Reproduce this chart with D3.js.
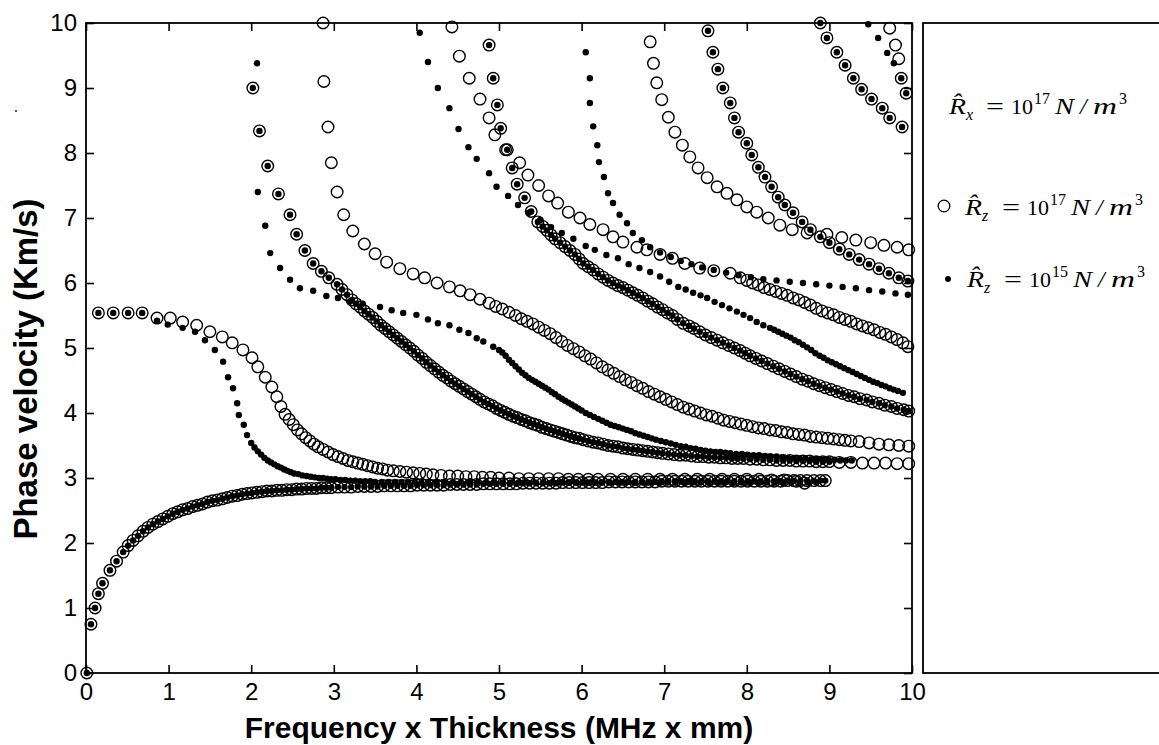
<!DOCTYPE html>
<html><head><meta charset="utf-8">
<script src="https://cdn.jsdelivr.net/npm/d3@7"></script>
<style>body{margin:0;background:#fff}svg{display:block}</style>
</head><body><svg id="c" width="1159" height="745"></svg>
<script>
// ---------------- data ----------------
const xTicks = [0,1,2,3,4,5,6,7,8,9,10];
const yTicks = [0,1,2,3,4,5,6,7,8,9,10];
const xLabel = "Frequency x Thickness (MHz x mm)";
const yLabel = "Phase velocity (Km/s)";

// modes common to both series (drawn as circle + dot)
const modeA0 = [[0.01,0.0],[0.06,0.75],[0.11,1.0],[0.15,1.22],[0.2,1.38],[0.29,1.58],[0.37,1.72],[0.45,1.86],[0.51,1.96],[0.57,2.04],[0.63,2.11],[0.69,2.18],[0.75,2.24],[0.81,2.29],[0.87,2.33],[0.93,2.37],[0.99,2.41],[1.05,2.45],[1.11,2.48],[1.17,2.51],[1.23,2.53],[1.29,2.56],[1.35,2.58],[1.41,2.6],[1.47,2.63],[1.53,2.65],[1.59,2.66],[1.65,2.68],[1.71,2.7],[1.77,2.72],[1.83,2.73],[1.89,2.75],[1.95,2.76],[2.01,2.77],[2.07,2.78],[2.13,2.79],[2.19,2.8],[2.25,2.8],[2.31,2.81],[2.37,2.81],[2.43,2.82],[2.49,2.82],[2.55,2.83],[2.61,2.83],[2.67,2.84],[2.73,2.84],[2.79,2.84],[2.85,2.85],[2.91,2.85],[2.97,2.85],[3.05,2.86],[3.13,2.86],[3.21,2.86],[3.29,2.87],[3.37,2.87],[3.45,2.87],[3.53,2.87],[3.61,2.88],[3.69,2.88],[3.77,2.88],[3.85,2.88],[3.93,2.88],[4.01,2.89],[4.09,2.89],[4.17,2.89],[4.25,2.89],[4.33,2.89],[4.41,2.9],[4.49,2.9],[4.57,2.9],[4.65,2.9],[4.73,2.9],[4.81,2.91],[4.89,2.91],[4.97,2.91],[5.05,2.91],[5.13,2.91],[5.21,2.91],[5.29,2.92],[5.37,2.92],[5.45,2.92],[5.53,2.92],[5.61,2.92],[5.69,2.92],[5.77,2.93],[5.85,2.93],[5.93,2.93],[6.01,2.93],[6.09,2.93],[6.17,2.93],[6.25,2.93],[6.33,2.94],[6.41,2.94],[6.49,2.94],[6.57,2.94],[6.65,2.94],[6.73,2.94],[6.81,2.94],[6.89,2.94],[6.97,2.95],[7.05,2.95],[7.13,2.95],[7.21,2.95],[7.29,2.95],[7.37,2.95],[7.45,2.95],[7.53,2.95],[7.61,2.95],[7.69,2.95],[7.77,2.95],[7.85,2.95],[7.93,2.95],[8.01,2.95],[8.09,2.95],[8.17,2.95],[8.25,2.95],[8.33,2.95],[8.41,2.95],[8.49,2.96],[8.57,2.96],[8.65,2.96],[8.73,2.96],[8.81,2.96],[8.89,2.96],[8.95,2.96]];
const modeS3 = [[2.02,9.0],[2.1,8.34],[2.2,7.8],[2.33,7.37],[2.47,7.05],[2.55,6.75],[2.65,6.5],[2.75,6.3],[2.85,6.18],[2.94,6.08],[3.04,5.98],[3.1,5.9],[3.16,5.82],[3.22,5.74],[3.27,5.68],[3.32,5.63],[3.37,5.57],[3.42,5.52],[3.47,5.47],[3.52,5.41],[3.57,5.35],[3.62,5.3],[3.67,5.25],[3.72,5.2],[3.77,5.15],[3.82,5.1],[3.87,5.05],[3.92,5.0],[3.97,4.95],[4.02,4.89],[4.07,4.84],[4.12,4.78],[4.17,4.73],[4.22,4.68],[4.27,4.63],[4.32,4.58],[4.37,4.54],[4.42,4.49],[4.47,4.45],[4.52,4.41],[4.57,4.37],[4.62,4.33],[4.67,4.29],[4.72,4.25],[4.77,4.21],[4.82,4.17],[4.87,4.14],[4.92,4.11],[4.97,4.07],[5.02,4.04],[5.07,4.01],[5.12,3.98],[5.17,3.95],[5.22,3.93],[5.27,3.9],[5.32,3.88],[5.37,3.85],[5.42,3.83],[5.47,3.81],[5.52,3.78],[5.57,3.76],[5.62,3.74],[5.67,3.72],[5.72,3.7],[5.77,3.68],[5.82,3.66],[5.87,3.64],[5.92,3.62],[5.97,3.61],[6.02,3.59],[6.08,3.57],[6.14,3.55],[6.2,3.54],[6.26,3.52],[6.32,3.5],[6.38,3.49],[6.44,3.48],[6.5,3.46],[6.56,3.45],[6.62,3.44],[6.68,3.43],[6.74,3.42],[6.8,3.41],[6.86,3.4],[6.92,3.39],[6.98,3.38],[7.05,3.37],[7.12,3.36],[7.19,3.35],[7.26,3.35],[7.33,3.34],[7.4,3.33],[7.47,3.33],[7.54,3.32],[7.61,3.32],[7.68,3.31],[7.75,3.31],[7.82,3.3],[7.89,3.3],[7.96,3.3],[8.04,3.29],[8.12,3.29],[8.2,3.28],[8.28,3.28],[8.36,3.27],[8.44,3.27],[8.52,3.27],[8.6,3.26],[8.68,3.26],[8.76,3.26],[8.84,3.25],[8.92,3.25],[9.0,3.25]];
const modeS5 = [[4.88,9.66],[4.93,9.15],[4.98,8.74],[5.02,8.38],[5.1,8.05],[5.16,7.77],[5.22,7.52],[5.31,7.31],[5.39,7.1],[5.47,6.94],[5.53,6.87],[5.58,6.81],[5.63,6.74],[5.68,6.68],[5.74,6.62],[5.8,6.56],[5.86,6.5],[5.92,6.44],[5.97,6.37],[6.02,6.3],[6.08,6.25],[6.14,6.2],[6.2,6.14],[6.26,6.09],[6.32,6.04],[6.38,6.0],[6.44,5.96],[6.5,5.93],[6.56,5.89],[6.62,5.85],[6.68,5.81],[6.74,5.77],[6.8,5.72],[6.86,5.68],[6.92,5.63],[6.98,5.59],[7.04,5.54],[7.1,5.5],[7.16,5.44],[7.23,5.38],[7.3,5.34],[7.36,5.3],[7.43,5.25],[7.5,5.2],[7.57,5.16],[7.64,5.12],[7.71,5.08],[7.78,5.04],[7.85,5.0],[7.92,4.96],[7.98,4.92],[8.04,4.88],[8.11,4.84],[8.18,4.8],[8.25,4.76],[8.32,4.72],[8.39,4.68],[8.46,4.64],[8.53,4.6],[8.6,4.56],[8.67,4.52],[8.74,4.49],[8.81,4.45],[8.88,4.42],[8.95,4.39],[9.02,4.36],[9.09,4.33],[9.16,4.3],[9.23,4.27],[9.3,4.25],[9.37,4.22],[9.45,4.2],[9.52,4.17],[9.6,4.15],[9.67,4.12],[9.75,4.1],[9.82,4.07],[9.9,4.05],[9.96,4.03]];
const modeS8 = [[7.53,9.88],[7.59,9.55],[7.65,9.29],[7.71,9.0],[7.8,8.77],[7.85,8.54],[7.9,8.32],[8.0,8.15],[8.06,7.97],[8.14,7.78],[8.22,7.63],[8.3,7.48],[8.38,7.32],[8.46,7.2],[8.56,7.08],[8.67,6.94],[8.77,6.82],[8.89,6.71],[9.0,6.62],[9.12,6.52],[9.24,6.44],[9.36,6.36],[9.48,6.29],[9.6,6.22],[9.72,6.15],[9.84,6.08],[9.95,6.03]];
const modeS9 = [[8.89,10.0],[8.97,9.77],[9.09,9.55],[9.19,9.35],[9.29,9.15],[9.39,8.98],[9.51,8.83],[9.64,8.69],[9.73,8.54],[9.88,8.4]];

// Rz = 1e17 only (open circles)
const open2 = [[0.15,5.54],[0.33,5.54],[0.51,5.54],[0.68,5.54],[0.86,5.46],[1.02,5.46],[1.17,5.4],[1.34,5.35],[1.5,5.25],[1.65,5.17],[1.77,5.08],[1.9,4.97],[2.01,4.85],[2.08,4.71],[2.17,4.55],[2.25,4.4],[2.31,4.25],[2.36,4.1],[2.41,3.98],[2.46,3.9],[2.51,3.82],[2.56,3.74],[2.61,3.68],[2.66,3.62],[2.71,3.57],[2.76,3.52],[2.81,3.48],[2.87,3.44],[2.93,3.4],[2.99,3.36],[3.05,3.33],[3.11,3.3],[3.17,3.27],[3.23,3.25],[3.29,3.23],[3.35,3.21],[3.41,3.19],[3.47,3.17],[3.53,3.15],[3.59,3.14],[3.65,3.12],[3.72,3.11],[3.8,3.1],[3.88,3.09],[3.96,3.08],[4.04,3.07],[4.12,3.06],[4.2,3.05],[4.3,3.04],[4.4,3.03],[4.5,3.03],[4.6,3.02],[4.7,3.02],[4.8,3.01],[4.9,3.01],[5.0,3.0],[5.12,3.0],[5.24,2.99],[5.36,2.99],[5.48,2.99],[5.6,2.99],[5.72,2.99],[5.84,2.98],[5.96,2.98],[6.08,2.98],[6.2,2.98],[6.35,2.98],[6.5,2.98],[6.65,2.98],[6.8,2.98],[6.95,2.98],[7.1,2.98],[7.25,2.98],[7.4,2.98],[7.55,2.98],[7.7,2.98],[7.85,2.98],[8.0,2.98],[8.15,2.98],[8.3,2.97],[8.45,2.97],[8.6,2.95],[8.7,2.92]];
const open3tail = [[9.12,3.24],[9.26,3.24],[9.4,3.23],[9.54,3.23],[9.68,3.23],[9.82,3.22],[9.96,3.22]];
const open4 = [[2.87,10.0],[2.88,9.1],[2.93,8.4],[2.97,7.85],[3.04,7.4],[3.12,7.05],[3.23,6.8],[3.37,6.6],[3.5,6.45],[3.64,6.32],[3.8,6.22],[3.96,6.14],[4.1,6.08],[4.25,6.0],[4.4,5.94],[4.53,5.88],[4.65,5.82],[4.77,5.75],[4.88,5.69],[4.96,5.64],[5.04,5.6],[5.12,5.55],[5.2,5.5],[5.27,5.45],[5.34,5.41],[5.41,5.37],[5.48,5.32],[5.55,5.27],[5.62,5.22],[5.69,5.16],[5.76,5.1],[5.83,5.04],[5.9,4.99],[5.97,4.94],[6.04,4.88],[6.11,4.83],[6.18,4.77],[6.25,4.71],[6.32,4.66],[6.39,4.61],[6.46,4.56],[6.53,4.51],[6.6,4.47],[6.67,4.42],[6.74,4.38],[6.81,4.33],[6.88,4.29],[6.95,4.25],[7.02,4.21],[7.09,4.17],[7.16,4.13],[7.23,4.09],[7.3,4.06],[7.37,4.03],[7.44,4.0],[7.51,3.97],[7.58,3.95],[7.65,3.92],[7.72,3.89],[7.79,3.87],[7.86,3.85],[7.93,3.83],[8.0,3.81],[8.07,3.79],[8.14,3.77],[8.21,3.76],[8.28,3.74],[8.35,3.73],[8.42,3.71],[8.49,3.7],[8.56,3.68],[8.63,3.67],[8.7,3.66],[8.77,3.64],[8.84,3.63],[8.91,3.62],[8.98,3.61],[9.05,3.6],[9.12,3.59],[9.19,3.58],[9.26,3.57],[9.36,3.56],[9.48,3.54],[9.6,3.52],[9.72,3.51],[9.84,3.5],[9.96,3.49]];
const open5 = [[4.43,9.94],[4.52,9.49],[4.64,9.15],[4.77,8.83],[4.88,8.54],[4.95,8.28],[5.08,8.05],[5.25,7.85],[5.35,7.66],[5.48,7.5],[5.6,7.34],[5.71,7.23],[5.84,7.09],[5.98,7.0],[6.1,6.9],[6.26,6.82],[6.38,6.71],[6.5,6.63],[6.67,6.55],[6.79,6.51],[6.95,6.44],[7.1,6.38],[7.25,6.3],[7.43,6.23],[7.6,6.19],[7.8,6.15],[7.92,6.08],[8.0,6.04],[8.07,6.0],[8.14,5.97],[8.21,5.93],[8.28,5.9],[8.35,5.87],[8.42,5.84],[8.49,5.81],[8.56,5.77],[8.63,5.74],[8.7,5.7],[8.77,5.66],[8.84,5.61],[8.91,5.57],[8.98,5.54],[9.05,5.51],[9.12,5.47],[9.19,5.44],[9.26,5.41],[9.33,5.37],[9.4,5.34],[9.47,5.31],[9.54,5.28],[9.61,5.24],[9.68,5.21],[9.75,5.17],[9.82,5.13],[9.89,5.08],[9.95,5.02]];
const open7 = [[6.83,9.71],[6.87,9.38],[6.91,9.08],[6.97,8.82],[7.05,8.55],[7.13,8.32],[7.22,8.12],[7.31,7.94],[7.41,7.77],[7.52,7.62],[7.64,7.48],[7.76,7.38],[7.88,7.28],[8.0,7.17],[8.12,7.09],[8.26,7.0],[8.4,6.89],[8.55,6.82],[8.73,6.77],[8.97,6.75],[9.15,6.7],[9.32,6.66],[9.5,6.62],[9.66,6.58],[9.82,6.55],[9.96,6.51]];
const open10 = [[9.73,9.92],[9.8,9.66],[9.84,9.45],[9.87,9.15],[9.93,8.92]];

// Rz = 1e15 only (filled dots)
const filled2 = [[0.15,5.54],[0.33,5.54],[0.51,5.54],[0.68,5.54],[0.86,5.42],[0.99,5.36],[1.17,5.31],[1.32,5.25],[1.44,5.12],[1.56,4.97],[1.66,4.79],[1.72,4.55],[1.78,4.38],[1.83,4.15],[1.85,3.97],[1.91,3.82],[1.95,3.66],[2.0,3.54],[2.04,3.47],[2.08,3.41],[2.12,3.36],[2.16,3.31],[2.2,3.27],[2.24,3.24],[2.28,3.21],[2.32,3.18],[2.36,3.16],[2.4,3.13],[2.44,3.11],[2.48,3.09],[2.52,3.07],[2.57,3.06],[2.62,3.04],[2.67,3.03],[2.72,3.02],[2.77,3.01],[2.82,3.0],[2.87,3.0],[2.92,2.99],[2.97,2.98],[3.02,2.98],[3.08,2.97],[3.14,2.97],[3.2,2.96],[3.26,2.96],[3.32,2.95],[3.38,2.95],[3.44,2.95],[3.5,2.94],[3.58,2.94],[3.66,2.94],[3.74,2.94],[3.82,2.94],[3.9,2.94],[3.98,2.94],[4.06,2.93],[4.14,2.93],[4.24,2.93],[4.34,2.93],[4.44,2.93],[4.54,2.93],[4.64,2.93],[4.74,2.93],[4.84,2.93],[4.94,2.93],[5.04,2.93],[5.14,2.93],[5.24,2.93],[5.34,2.93],[5.44,2.93],[5.54,2.93],[5.64,2.93],[5.74,2.93],[5.84,2.93],[5.94,2.93],[6.04,2.93],[6.14,2.93],[6.24,2.93],[6.34,2.93],[6.44,2.93],[6.54,2.93],[6.64,2.93],[6.74,2.93],[6.84,2.93],[6.94,2.93],[7.04,2.93],[7.14,2.93],[7.24,2.93],[7.34,2.93],[7.44,2.93],[7.54,2.93],[7.64,2.93],[7.74,2.93],[7.84,2.93],[7.94,2.93],[8.04,2.93],[8.14,2.93],[8.24,2.93],[8.34,2.93],[8.44,2.93],[8.54,2.93],[8.64,2.93],[8.74,2.93],[8.84,2.93]];
const filled4 = [[2.07,9.38],[2.08,7.4],[2.17,6.88],[2.23,6.46],[2.35,6.23],[2.47,6.05],[2.59,5.92],[2.75,5.88],[2.91,5.8],[3.05,5.77],[3.2,5.72],[3.35,5.68],[3.56,5.63],[3.7,5.58],[3.84,5.54],[4.0,5.51],[4.14,5.44],[4.26,5.38],[4.4,5.35],[4.52,5.28],[4.63,5.23],[4.73,5.15],[4.81,5.1],[4.93,5.02],[5.0,4.97],[5.04,4.93],[5.08,4.88],[5.12,4.82],[5.16,4.77],[5.2,4.72],[5.24,4.67],[5.28,4.62],[5.32,4.58],[5.36,4.54],[5.4,4.51],[5.44,4.48],[5.48,4.45],[5.52,4.42],[5.56,4.39],[5.6,4.36],[5.64,4.32],[5.68,4.29],[5.72,4.25],[5.76,4.22],[5.8,4.19],[5.84,4.16],[5.88,4.13],[5.92,4.1],[5.96,4.07],[6.0,4.04],[6.05,4.0],[6.1,3.97],[6.15,3.94],[6.2,3.91],[6.25,3.88],[6.3,3.85],[6.35,3.82],[6.4,3.8],[6.45,3.78],[6.5,3.76],[6.55,3.74],[6.6,3.72],[6.65,3.69],[6.7,3.67],[6.75,3.65],[6.8,3.63],[6.85,3.61],[6.9,3.59],[6.96,3.57],[7.02,3.55],[7.08,3.53],[7.14,3.51],[7.2,3.49],[7.26,3.48],[7.32,3.46],[7.38,3.45],[7.44,3.43],[7.5,3.42],[7.56,3.41],[7.62,3.4],[7.68,3.4],[7.74,3.39],[7.8,3.38],[7.87,3.37],[7.94,3.37],[8.01,3.36],[8.08,3.35],[8.15,3.35],[8.22,3.34],[8.29,3.33],[8.36,3.33],[8.43,3.32],[8.5,3.31],[8.57,3.31],[8.64,3.3],[8.71,3.3],[8.78,3.29],[8.85,3.29],[8.92,3.28],[8.99,3.28],[9.06,3.28],[9.13,3.27],[9.2,3.27],[9.27,3.27]];
const filled6 = [[4.04,9.85],[4.14,9.4],[4.26,9.0],[4.4,8.69],[4.51,8.37],[4.63,8.09],[4.73,7.91],[4.88,7.69],[4.97,7.48],[5.11,7.34],[5.23,7.2],[5.36,7.08],[5.5,6.97],[5.63,6.86],[5.76,6.77],[5.9,6.68],[6.05,6.57],[6.16,6.51],[6.3,6.43],[6.44,6.38],[6.57,6.29],[6.7,6.23],[6.83,6.17],[6.95,6.1],[7.06,6.02],[7.17,5.94],[7.26,5.9],[7.35,5.85],[7.44,5.81],[7.52,5.77],[7.61,5.71],[7.7,5.66],[7.79,5.61],[7.88,5.56],[7.96,5.51],[8.04,5.46],[8.12,5.4],[8.2,5.35],[8.28,5.31],[8.33,5.28],[8.38,5.25],[8.43,5.22],[8.48,5.19],[8.53,5.16],[8.58,5.12],[8.63,5.09],[8.68,5.05],[8.73,5.01],[8.78,4.97],[8.83,4.92],[8.88,4.88],[8.93,4.85],[8.98,4.81],[9.03,4.78],[9.08,4.75],[9.13,4.72],[9.18,4.69],[9.23,4.66],[9.28,4.63],[9.33,4.6],[9.38,4.57],[9.43,4.54],[9.48,4.51],[9.53,4.48],[9.58,4.46],[9.63,4.43],[9.68,4.41],[9.73,4.38],[9.78,4.36],[9.83,4.34],[9.89,4.31]];
const filled7 = [[6.05,9.55],[6.1,9.15],[6.1,8.77],[6.14,8.41],[6.19,8.12],[6.21,7.86],[6.27,7.63],[6.32,7.38],[6.38,7.23],[6.46,7.05],[6.55,6.92],[6.62,6.77],[6.73,6.66],[6.83,6.55],[6.95,6.47],[7.08,6.4],[7.2,6.34],[7.33,6.29],[7.46,6.24],[7.6,6.2],[7.75,6.16],[7.9,6.12],[8.05,6.09],[8.2,6.06],[8.36,6.04],[8.52,6.02],[8.68,6.0],[8.84,5.98],[9.0,5.96],[9.16,5.94],[9.32,5.92],[9.48,5.89],[9.64,5.87],[9.8,5.84],[9.95,5.82]];
const filled10 = [[9.47,9.98],[9.59,9.77],[9.7,9.54],[9.78,9.38],[9.87,9.15],[9.93,8.92]];

const openModes   = [modeA0, open2, modeS3, open3tail, open4, open5, modeS5, open7, modeS8, modeS9, open10];
const filledModes = [modeA0, filled2, modeS3, filled4, filled6, modeS5, filled7, modeS8, modeS9, filled10];

// ---------------- drawing ----------------
const svg = d3.select('#c');
const x = d3.scaleLinear().domain([0,10]).range([86,912]);
const y = d3.scaleLinear().domain([0,10]).range([673,23]);

function styleAxis(g){
  g.select('.domain').remove();
  g.selectAll('.tick line').attr('stroke','#000').attr('stroke-width',1.6);
  g.selectAll('.tick text').attr('fill','#000');
  g.attr('font-family','"Liberation Sans", Arial, sans-serif').attr('font-size',24);
}
svg.append('g').attr('transform','translate(0,673)')
  .call(d3.axisBottom(x).tickValues(xTicks).tickFormat(d3.format('d')).tickSizeInner(-8).tickSizeOuter(0).tickPadding(10)).call(styleAxis);
svg.append('g').attr('transform','translate(86,0)')
  .call(d3.axisLeft(y).tickValues(yTicks).tickFormat(d3.format('d')).tickSizeInner(-8).tickSizeOuter(0).tickPadding(9)).call(styleAxis);
svg.append('g').attr('transform','translate(0,23)')
  .call(d3.axisTop(x).tickValues(xTicks).tickFormat('').tickSizeInner(-8).tickSizeOuter(0)).call(styleAxis);
svg.append('g').attr('transform','translate(912,0)')
  .call(d3.axisRight(y).tickValues(yTicks).tickFormat('').tickSizeInner(-8).tickSizeOuter(0)).call(styleAxis);

svg.append('rect').attr('x',x(0)).attr('y',y(10)).attr('width',x(10)-x(0)).attr('height',y(0)-y(10))
  .attr('fill','none').attr('stroke','#000').attr('stroke-width',1.8);

// markers
const gOpen = svg.append('g');
openModes.forEach(m => {
  gOpen.selectAll(null).data(m).enter().append('circle')
    .attr('cx',d=>x(d[0])).attr('cy',d=>y(d[1])).attr('r',5.8)
    .attr('fill','none').attr('stroke','#000').attr('stroke-width',1.4);
});
const gFill = svg.append('g');
filledModes.forEach(m => {
  gFill.selectAll(null).data(m).enter().append('circle')
    .attr('cx',d=>x(d[0])).attr('cy',d=>y(d[1])).attr('r',3.2).attr('fill','#000');
});

// axis titles
svg.append('text').attr('x',(x(0)+x(10))/2).attr('y',738).attr('text-anchor','middle')
  .attr('font-family','"Liberation Sans", Arial, sans-serif').attr('font-weight','bold').attr('font-size',30)
  .text(xLabel);
svg.append('text').attr('transform','translate(37,369) rotate(-90)').attr('text-anchor','middle')
  .attr('font-family','"Liberation Sans", Arial, sans-serif').attr('font-weight','bold').attr('font-size',33)
  .text(yLabel);
svg.append('rect').attr('x',15).attr('y',110).attr('width',2).attr('height',2).attr('fill','#555');

// legend box
svg.append('rect').attr('x',923).attr('y',23).attr('width',300).attr('height',650)
  .attr('fill','none').attr('stroke','#000').attr('stroke-width',1.8);

function legendLine(x0, base, sub, exp){
  const f = '"Liberation Serif", "Times New Roman", serif';
  const parts = [
    {t:'R\u0302', dx:0, dy:0, it:true, fs:24, w:17},
    {t:sub, dx:17, dy:6, it:true, fs:16},
    {t:'=', dx:37, dy:0, it:false, fs:24, w:18},
    {t:'10', dx:62, dy:0, it:false, fs:22},
    {t:exp, dx:85, dy:-10, it:false, fs:16},
    {t:'N', dx:106, dy:0, it:true, fs:24, w:19},
    {t:'/', dx:131, dy:0, it:true, fs:24},
    {t:'m', dx:144, dy:0, it:true, fs:24, w:24},
    {t:'3', dx:170, dy:-10, it:false, fs:16}
  ];
  parts.forEach(p => {
    const t = svg.append('text').attr('x',x0+p.dx).attr('y',base+p.dy)
      .attr('font-family',f).attr('font-size',p.fs).attr('font-style',p.it?'italic':'normal').text(p.t);
    if (p.w) t.attr('textLength',p.w).attr('lengthAdjust','spacingAndGlyphs');
  });
}
legendLine(949, 114, 'x', '17');
svg.append('circle').attr('cx',944).attr('cy',206).attr('r',5.8).attr('fill','none').attr('stroke','#000').attr('stroke-width',1.3);
legendLine(965, 215, 'z', '17');
svg.append('circle').attr('cx',948).attr('cy',279).attr('r',3).attr('fill','#000');
legendLine(967, 287, 'z', '15');
</script></body></html>
